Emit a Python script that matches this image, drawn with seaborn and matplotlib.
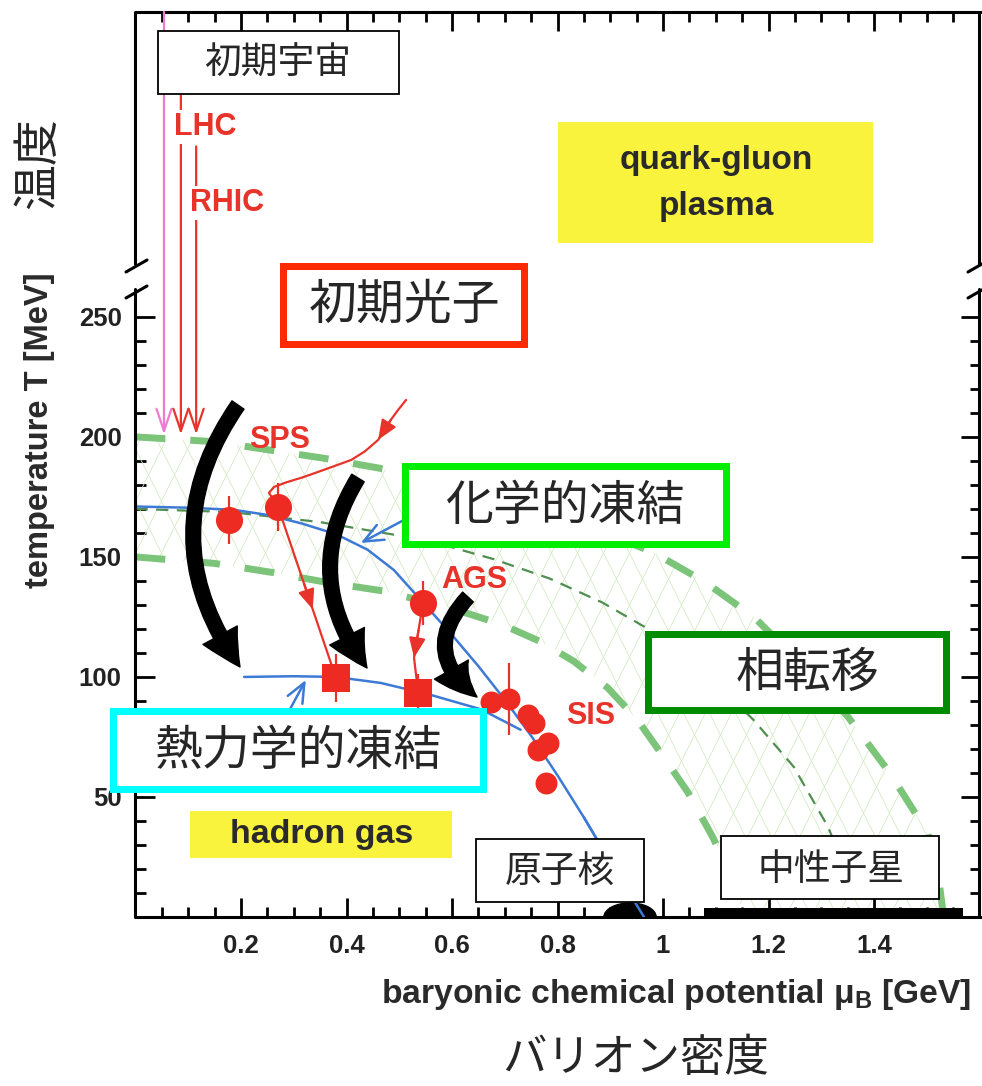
import numpy as np
import pandas as pd
import matplotlib
matplotlib.use("Agg")
import matplotlib.pyplot as plt
import seaborn as sns
from matplotlib.patches import Rectangle, FancyArrowPatch, Ellipse, Polygon
from matplotlib.lines import Line2D
from matplotlib.transforms import Affine2D

# ---------------- data ----------------
xtick_vals = [0.2, 0.4, 0.6, 0.8, 1.0, 1.2, 1.4]
xtick_labels = ["0.2", "0.4", "0.6", "0.8", "1", "1.2", "1.4"]
ytick_vals = [50, 100, 150, 200, 250]
ytick_labels = ["50", "100", "150", "200", "250"]

# phase transition band (green dashed)
upper_mu = [0.0, 0.15, 0.36, 0.497, 0.62, 0.75, 0.87, 0.983, 1.08, 1.172, 1.26, 1.351, 1.43, 1.502, 1.522, 1.532]
upper_T = [200, 198, 191, 185.6, 179, 171, 162, 151.7, 139.5, 125, 106, 83.3, 60, 35, 17, 0]
mid_mu = [0.0, 0.18, 0.35, 0.497, 0.6, 0.68, 0.785, 0.885, 0.964, 1.08, 1.172, 1.248, 1.313, 1.345, 1.365]
mid_T = [170, 168.7, 164.5, 159, 154, 149, 141, 131, 121, 102, 82, 62.5, 37.5, 20, 0]
lower_mu = [0.0, 0.15, 0.26, 0.365, 0.47, 0.6, 0.693, 0.77, 0.831, 0.895, 0.952, 1.0, 1.047, 1.095, 1.13, 1.155]
lower_T = [150, 147.3, 143.5, 139.3, 135.8, 128.5, 122, 114.5, 106.5, 95.5, 82, 67, 52, 33, 16, 0]

# chemical freeze-out curve (blue) and thermal freeze-out curve (blue)
chem_curve_mu = [0.0, 0.1, 0.187, 0.25, 0.314, 0.38, 0.44, 0.49, 0.545, 0.6, 0.65, 0.7, 0.75, 0.8, 0.85, 0.9, 0.964]
chem_curve_T = [171, 170.5, 169.6, 167.5, 164, 159.5, 153, 144.5, 131, 117.5, 104.5, 90.5, 75.5, 59, 41.5, 23, 0]
therm_curve_mu = [0.206, 0.3, 0.38, 0.465, 0.56, 0.655, 0.73]
therm_curve_T = [100, 100.3, 100, 97.5, 92.5, 86.5, 78]

# data points
chem_mu = [0.178, 0.270, 0.545]
chem_T = [165.4, 171.0, 130.8]
chem_err = [10, 10, 9]
sis_mu = [0.674, 0.708, 0.744, 0.756, 0.782, 0.763, 0.778]
sis_T = [89.6, 91.0, 84.0, 81.0, 72.5, 69.6, 55.8]
sis_err = [0, 15, 0, 0, 0, 0, 0]
therm_mu = [0.380, 0.536]
therm_T = [99.6, 93.3]
therm_err = [10, 8]

# red trajectories
sps_in_mu = [0.513, 0.497, 0.484, 0.46, 0.435, 0.409, 0.36, 0.319, 0.285, 0.263, 0.253, 0.270]
sps_in_T = [215.4, 211.0, 207.1, 198.75, 194.0, 190.4, 186.5, 183.3, 181.0, 179.2, 176.7, 171.0]
sps_out_mu = [0.270, 0.380]
sps_out_T = [171.0, 99.6]
ags_mu = [0.545, 0.528, 0.536]
ags_T = [130.8, 108, 93.3]

# beams from the early universe
beam_mu = [0.054, 0.086, 0.115]
beam_top = [377, 350, 321]
beam_end = 201

# neutron stars and nuclei
nstar_mu = [1.078, 1.569]
nstar_T = 3.8
nucleus_mu = 0.9375

# ---------------- style ----------------
sns.set_style("ticks")
plt.rcParams["font.family"] = ["Liberation Sans", "Noto Sans CJK JP", "DejaVu Sans"]
plt.rcParams["mathtext.default"] = "regular"

W, H = 982, 1086
fig = plt.figure(figsize=(W / 100, H / 100), dpi=100)
fig.patch.set_facecolor("white")
ax_l, ax_r, ax_b, ax_t = 135.5, 979.5, 917, 12
ax = fig.add_axes([ax_l / W, 1 - ax_b / H, (ax_r - ax_l) / W, (ax_b - ax_t) / H])
ax.set_facecolor("white")
ax.set_xlim(0, 1.6)
ax.set_ylim(0, 377)

pxT = Affine2D().scale(1 / W, -1 / H).translate(0, 1) + fig.transFigure

RED = "#e8332a"
BLUE = "#3d7ad6"
GTHICK = "#7cc47a"
GTHIN = "#4f8f4f"

# ---- hatched band ----
band = Polygon(np.column_stack([upper_mu + lower_mu[::-1], upper_T + lower_T[::-1]]),
               closed=True, facecolor="none", edgecolor="none", zorder=1)
ax.add_patch(band)
for k in range(-45, 60):
    x0 = ax_l + k * 26
    for s in (1, -1):
        ln = Line2D([x0, x0 + s * 460], [ax_b, ax_b - 920], transform=pxT,
                    color="#d3ebc4", lw=0.6, zorder=1)
        ln.set_clip_path(band)
        ax.add_line(ln)

def curve(mu, T, **kw):
    df = pd.DataFrame({"mu": mu, "T": T})
    sns.lineplot(data=df, x="mu", y="T", ax=ax, sort=False, estimator=None, **kw)

curve(upper_mu, upper_T, color=GTHICK, lw=5, linestyle=(0, (4.3, 3.6)), zorder=2)
curve(lower_mu, lower_T, color=GTHICK, lw=5, linestyle=(0, (4.3, 3.6)), zorder=2)
curve(mid_mu, mid_T, color=GTHIN, lw=1.6, linestyle=(0, (5.5, 3.8)), zorder=2)
curve(chem_curve_mu, chem_curve_T, color=BLUE, lw=1.8, zorder=3)
curve(therm_curve_mu, therm_curve_T, color=BLUE, lw=1.8, zorder=3)

# blue small arrows
bah = dict(arrowstyle="->,head_length=0.7,head_width=0.3", color=BLUE, lw=1.8,
           mutation_scale=20, shrinkA=0, shrinkB=0)
ax.annotate("", xy=(0.427, 155.8), xytext=(0.509, 165.4), arrowprops=bah, zorder=3)
ax.annotate("", xy=(0.323, 98.75), xytext=(0.289, 85), arrowprops=bah, zorder=3)

# red trajectories
curve(sps_in_mu, sps_in_T, color=RED, lw=1.6, zorder=4)
curve(sps_out_mu, sps_out_T, color=RED, lw=1.6, zorder=4)
curve(ags_mu, ags_T, color=RED, lw=1.6, zorder=4)
ah = dict(arrowstyle="-|>,head_length=0.6,head_width=0.25", color=RED, lw=1.6,
          mutation_scale=20, shrinkA=0, shrinkB=0)

def on_seg(m0, t0, m1, t1, f):
    return (m0 + f * (m1 - m0), t0 + f * (t1 - t0))

ax.annotate("", xy=(sps_in_mu[3], sps_in_T[3]), xytext=(sps_in_mu[2], sps_in_T[2]), arrowprops=ah, zorder=4)
ax.annotate("", xy=on_seg(sps_out_mu[0], sps_out_T[0], sps_out_mu[1], sps_out_T[1], 0.6),
            xytext=on_seg(sps_out_mu[0], sps_out_T[0], sps_out_mu[1], sps_out_T[1], 0.45), arrowprops=ah, zorder=4)
ax.annotate("", xy=(ags_mu[1], ags_T[1]),
            xytext=on_seg(ags_mu[0], ags_T[0], ags_mu[1], ags_T[1], 0.5), arrowprops=ah, zorder=4)

# beams
beam_cols = ["#f07ad2", RED, RED]
for m, top, c in zip(beam_mu, beam_top, beam_cols):
    ax.annotate("", xy=(m, beam_end), xytext=(m, top),
                arrowprops=dict(arrowstyle="->,head_length=0.8,head_width=0.27", color=c, lw=1.6,
                                mutation_scale=20, shrinkA=0, shrinkB=0), zorder=4)

# error bars + points
ax.errorbar(chem_mu, chem_T, yerr=chem_err, fmt="none", ecolor=RED, elinewidth=1.6, zorder=4)
ax.errorbar(sis_mu, sis_T, yerr=sis_err, fmt="none", ecolor=RED, elinewidth=1.6, zorder=4)
ax.errorbar(therm_mu, therm_T, yerr=therm_err, fmt="none", ecolor=RED, elinewidth=1.6, zorder=4)
sns.scatterplot(x=chem_mu, y=chem_T, ax=ax, s=380, color="#ee2b22", marker="o", linewidth=0, zorder=5)
sns.scatterplot(x=sis_mu, y=sis_T, ax=ax, s=250, color="#ee2b22", marker="o", linewidth=0, zorder=5)
sns.scatterplot(x=therm_mu, y=therm_T, ax=ax, s=380, color="#ee2b22", marker="s", linewidth=0, zorder=5)

# red labels
for txt, mx, ty in [("SPS", 0.274, 198.75), ("AGS", 0.643, 140.4), ("SIS", 0.862, 83.75)]:
    ax.text(mx, ty, txt, color=RED, fontsize=22, fontweight="bold", ha="center", va="center",
            family="Liberation Sans", zorder=5)

# nuclei and neutron stars
ax.add_patch(Ellipse((nucleus_mu, 0), 0.099, 11.7, color="black", zorder=3))
ax.fill_between(nstar_mu, 0, nstar_T, color="black", lw=0, zorder=3)
curve(chem_curve_mu[-3:], chem_curve_T[-3:], color=BLUE, lw=1.8, zorder=3.5)

# black curved arrows
for (a, b, rad) in [((238, 405), (240, 667), 0.35), ((358, 478), (367, 668), 0.34), ((468, 597), (477, 697), 0.55)]:
    arr = FancyArrowPatch(a, b, transform=pxT, connectionstyle=f"arc3,rad={rad}",
                          arrowstyle="simple,head_length=2.7,head_width=2.8,tail_width=1.05",
                          mutation_scale=10, color="black", shrinkA=0, shrinkB=0, zorder=6)
    ax.add_patch(arr)

# ---- axes styling ----
ax.set_xlabel("")
ax.set_ylabel("")
ax.set_xticks(xtick_vals)
ax.set_xticklabels(xtick_labels)
ax.set_yticks(ytick_vals)
ax.set_yticklabels(ytick_labels)
ax.set_xticks(np.arange(0.05, 1.6, 0.05), minor=True)
ax.set_yticks(np.arange(10, 251, 10), minor=True)
ax.tick_params(which="both", direction="in", top=True, right=True, width=2, color="black")
ax.tick_params(which="major", length=14)
ax.tick_params(which="minor", length=7)
ax.tick_params(axis="x", pad=12, labelsize=18.5, labelcolor="#222222")
ax.tick_params(axis="y", pad=10, labelsize=18.5, labelcolor="#222222")
for lbl in ax.get_xticklabels() + ax.get_yticklabels():
    lbl.set_fontweight("bold")
    lbl.set_family("Liberation Sans")
for s in ["left", "right"]:
    ax.spines[s].set_visible(False)
for s in ["top", "bottom"]:
    ax.spines[s].set_linewidth(2.2)
    ax.spines[s].set_color("black")

# broken side spines
for x in (ax_l, ax_r):
    for (y0, y1) in [(ax_t, 264), (289, ax_b)]:
        fig.add_artist(Line2D([x, x], [y0, y1], transform=pxT, color="black", lw=2.2))
for (x0, x1) in [(126, 147), (968, 989)]:
    for yy in (266, 292):
        fig.add_artist(Line2D([x0, x1], [yy + 6, yy - 6], transform=pxT, color="black", lw=2.2))

# ---- boxes ----
def box(x0, y0, x1, y1, ec, lw_px, fc="white"):
    h = lw_px / 2.0
    fig.add_artist(Rectangle((x0 + h, y0 + h), (x1 - x0) - lw_px, (y1 - y0) - lw_px, transform=pxT,
                             facecolor=fc, edgecolor=ec, linewidth=lw_px * 0.72, zorder=5))

def ftext(x, y, s, size, **kw):
    fig.text(x / W, 1 - y / H, s, fontsize=size, ha="center", va="center", zorder=6, **kw)

CJK = ["Noto Sans CJK JP", "DejaVu Sans"]
LAT = ["Liberation Sans", "DejaVu Sans"]

box(558, 122, 873, 243, "none", 0, fc="#faf33e")
ftext(716, 160, "quark-gluon", 24, family=LAT, fontweight="bold", color="#2a2a2a")
ftext(716, 207, "plasma", 24, family=LAT, fontweight="bold", color="#2a2a2a")
box(190, 811, 452, 858, "none", 0, fc="#faf33e")
ftext(322, 835, "hadron gas", 24.5, family=LAT, fontweight="bold", color="#2a2a2a")

box(157, 30, 400, 95, "black", 1.8)
ftext(278, 63, "初期宇宙", 26.5, family=CJK)
box(280, 262, 528, 347, "#ff2a00", 7)
ftext(404, 305, "初期光子", 34.5, family=CJK)
box(402, 462, 730, 547, "#00ee00", 7)
ftext(566, 506, "化学的凍結", 34.5, family=CJK)
box(645, 630, 950, 713, "#008c00", 7)
ftext(807, 673, "相転移", 34.5, family=CJK)
box(110, 707, 487, 792, "#00ffff", 7)
ftext(299, 751, "熱力学的凍結", 34.5, family=CJK)
box(475, 838, 645, 903, "black", 1.8)
ftext(560, 871, "原子核", 26.5, family=CJK)
box(720, 835, 940, 900, "black", 1.8)
ftext(831, 869, "中性子星", 26.5, family=CJK)

# beam labels with white background
ftext(205, 127, "LHC", 22, family=LAT, fontweight="bold", color=RED,
      bbox=dict(facecolor="white", edgecolor="none", pad=1))
ftext(227, 203, "RHIC", 22, family=LAT, fontweight="bold", color=RED,
      bbox=dict(facecolor="white", edgecolor="none", pad=1))

# axis titles
ftext(40, 430, "temperature T [MeV]", 23.5, family=LAT, fontweight="bold", color="#2a2a2a", rotation=90)
ftext(676, 995, r"baryonic chemical potential $\mathregular{\mu_B}$ [GeV]", 24.2, family=LAT,
      fontweight="bold", color="#2a2a2a")
ftext(38, 163, "温度", 33, family=CJK, rotation=90)
ftext(636, 1058, "バリオン密度", 32, family=CJK)

fig.savefig("out.png", dpi=100, facecolor="white")
